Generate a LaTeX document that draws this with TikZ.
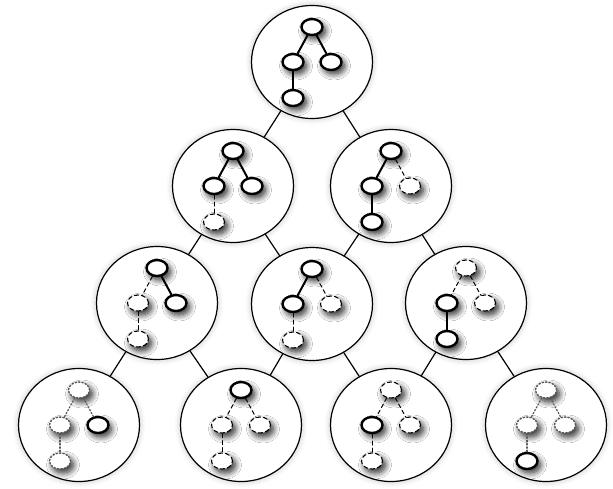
\documentclass[tikz,border=0pt]{standalone}
\usetikzlibrary{shapes.geometric,shadows.blur,calc}
\begin{document}
\begin{tikzpicture}[x=1pt,y=-1pt,line join=round,line cap=round]
	\tikzset{
		big/.style={ellipse,draw,line width=1.2pt,fill=white,minimum width=121pt,minimum height=113pt,inner sep=0pt,
			blur shadow={shadow xshift=0pt,shadow yshift=0pt,shadow blur radius=6pt,shadow opacity=25}},
		treenode/.style={ellipse,fill=white,minimum width=21pt,minimum height=16pt,inner sep=0pt,
			blur shadow={shadow xshift=3pt,shadow yshift=-4pt,shadow blur radius=6pt,shadow blur steps=10,shadow opacity=85}},
		full/.style={treenode,draw,line width=2.4pt},
		ghost/.style={treenode,draw,line width=1.1pt,dash pattern=on 4pt off 3pt},
		faint/.style={treenode,draw=black!65,line width=1.4pt,dotted},
		fulledge/.style={line width=2pt},
		ghostedge/.style={line width=1pt,dash pattern=on 4pt off 3pt},
		faintedge/.style={line width=1.3pt,dotted,black!65}
	}
	\useasboundingbox (0,0) rectangle (613,488);
	% big circles
	\foreach \n/\x/\y in {0/312/62,1/233/186,2/391/186,3/157/303,4/312/304,5/466/303,6/79/425,7/241/425,8/391/425,9/546/425}
	\node[big] (c\n) at (\x,\y) {};
	\foreach \a/\b in {0/1,0/2,1/3,1/4,2/4,2/5,3/6,3/7,4/7,4/8,5/8,5/9}
	\draw[line width=1.2pt] (c\a) -- (c\b);
	% small trees
	\foreach \n/\r/\l/\rr/\g/\el/\er/\eg in {
		0/full/full/full/full/fulledge/fulledge/fulledge,
		1/full/full/full/ghost/fulledge/fulledge/ghostedge,
		2/full/full/ghost/full/fulledge/ghostedge/fulledge,
		3/full/ghost/full/ghost/ghostedge/fulledge/ghostedge,
		4/full/full/ghost/ghost/fulledge/ghostedge/ghostedge,
		5/ghost/full/ghost/full/ghostedge/ghostedge/fulledge,
		6/faint/faint/full/faint/faintedge/faintedge/faintedge,
		7/full/ghost/ghost/ghost/ghostedge/ghostedge/ghostedge,
		8/ghost/full/ghost/ghost/ghostedge/ghostedge/ghostedge,
		9/faint/faint/faint/full/faintedge/faintedge/faintedge}
	{
		\node[\r] (r\n) at ($(c\n)+(0,-35)$) {};
		\node[\l] (a\n) at ($(c\n)+(-19,0)$) {};
		\node[\rr] (b\n) at ($(c\n)+(19,0)$) {};
		\node[\g] (g\n) at ($(c\n)+(-19,36)$) {};
		\draw[\el] (r\n) -- (a\n);
		\draw[\er] (r\n) -- (b\n);
		\draw[\eg] (a\n) -- (g\n);
	}
\end{tikzpicture}
\end{document}
